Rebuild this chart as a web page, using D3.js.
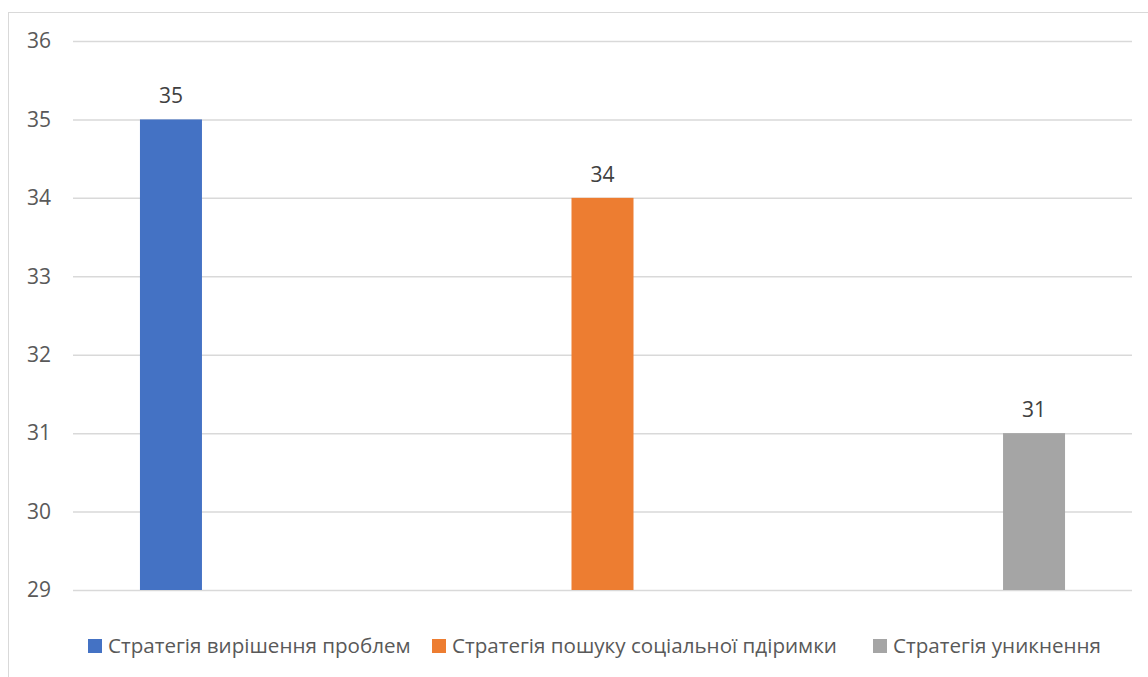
<!DOCTYPE html>
<html><head><meta charset="utf-8">
<script src="https://cdn.jsdelivr.net/npm/d3@7/dist/d3.min.js"></script>
<style>body{margin:0;background:#fff;} svg{display:block;font-family:"Open Sans",sans-serif;}</style>
</head><body>
<svg id="c" width="1148" height="677"></svg>
<script>
const series = ["Стратегія вирішення проблем","Стратегія пошуку соціальної пдіримки","Стратегія уникнення"];
const values = [35, 34, 31];
const colors = ["#4472C4","#ED7D31","#A5A5A5"];
const yTicks = [29,30,31,32,33,34,35,36];

const svg = d3.select("#c");
svg.append("rect").attr("x",8.5).attr("y",12.5).attr("width",1150).attr("height",680)
  .attr("fill","#fff").attr("stroke","#d9d9d9");

const x = d3.scalePoint().domain(series).range([73,1132]).padding(0.227);
const y = d3.scaleLinear().domain([29,36]).range([590,41]);
const bw = 62;

const g = svg.append("g");
g.selectAll("line.grid").data(yTicks).join("line").attr("class","grid")
  .attr("x1",73).attr("x2",1132).attr("y1",d=>y(d)+0.5).attr("y2",d=>y(d)+0.5)
  .attr("stroke","#d9d9d9").attr("stroke-width",1.5);

const yAxis = d3.axisLeft(y).tickValues(yTicks).tickSize(0).tickPadding(0).tickFormat(d3.format("d"));
const ax = svg.append("g").attr("transform","translate(51,0)").call(yAxis);
ax.select(".domain").remove();
ax.selectAll("text").attr("fill","#595959").style("font-size","21px").style("font-family","'Open Sans',sans-serif");

g.selectAll("rect.bar").data(values).join("rect").attr("class","bar")
  .attr("x",(d,i)=>x(series[i])-bw/2).attr("width",bw)
  .attr("y",d=>y(d)).attr("height",d=>y(29)-y(d))
  .attr("fill",(d,i)=>colors[i]);

g.selectAll("text.lbl").data(values).join("text").attr("class","lbl")
  .attr("x",(d,i)=>x(series[i])).attr("y",d=>y(d)-16)
  .attr("text-anchor","middle").attr("fill","#404040").style("font-size","21px")
  .text(d=>d);

const leg = svg.append("g");
const lx = [88, 432, 873];
series.forEach((s,i)=>{
  const gg = leg.append("g").attr("transform",`translate(${lx[i]},639)`);
  gg.append("rect").attr("width",14).attr("height",14).attr("fill",colors[i]);
  gg.append("text").attr("x",20).attr("y",14).attr("fill","#595959").style("font-size","20.6px").text(s);
});
</script>
</body></html>
